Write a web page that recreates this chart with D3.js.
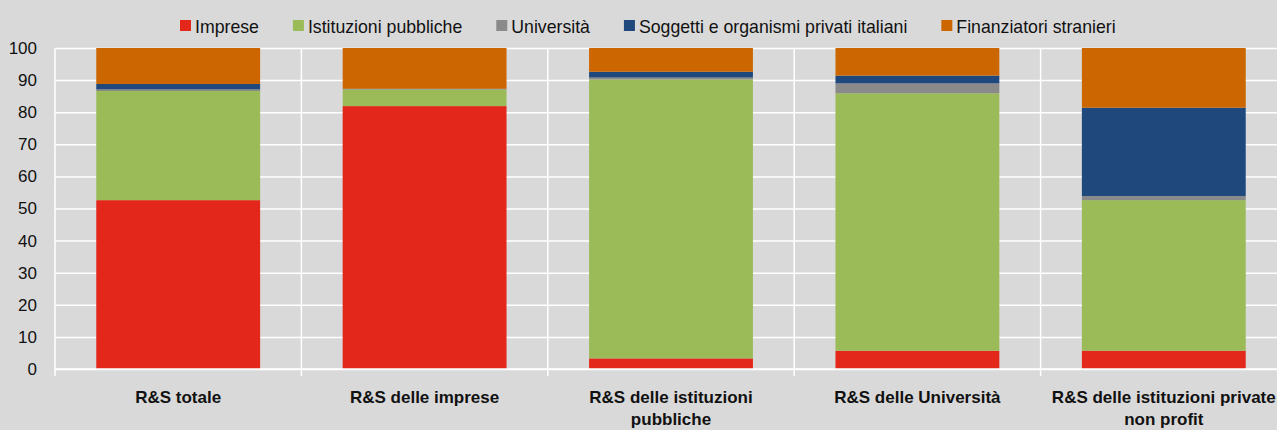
<!DOCTYPE html>
<html>
<head>
<meta charset="utf-8">
<script src="https://cdn.jsdelivr.net/npm/d3@7"></script>
<style>
  body { margin: 0; background: #d9d9d9; }
  svg { display: block; font-family: "Liberation Sans", Arial, sans-serif; }
</style>
</head>
<body>
<div id="chart"></div>
<script>
// categories and series (percent shares)
var categories = ["R&S totale", "R&S delle imprese", "R&S delle istituzioni pubbliche",
    "R&S delle Università", "R&S delle istituzioni private non profit"];
var catLines = [["R&S totale"], ["R&S delle imprese"], ["R&S delle istituzioni", "pubbliche"],
    ["R&S delle Università"], ["R&S delle istituzioni private", "non profit"]];
var seriesNames = ["Imprese", "Istituzioni pubbliche", "Università",
    "Soggetti e organismi privati italiani", "Finanziatori stranieri"];
var imprese = [52.6, 81.9, 3.3, 5.7, 5.7];
var istituzioni = [34.0, 5.2, 86.9, 80.2, 46.9];
var universita = [0.5, 0.1, 0.6, 3.1, 1.3];
var soggetti = [1.7, 0.1, 1.8, 2.4, 27.5];
var stranieri = [11.2, 12.7, 7.4, 8.6, 18.6];
var yTicks = [0, 10, 20, 30, 40, 50, 60, 70, 80, 90, 100];
var colors = ["#e3271a", "#9bbb59", "#8a8a8a", "#1f497d", "#cc6600"];

var width = 1277, height = 430;
var margin = { top: 48, right: -10, bottom: 61, left: 55 };

var svg = d3.select("#chart").append("svg")
    .attr("width", width)
    .attr("height", height);

svg.append("rect").attr("width", width).attr("height", height).attr("fill", "#d9d9d9");

// rows for stacking
var values = [imprese, istituzioni, universita, soggetti, stranieri];
var rows = categories.map(function (c, i) {
    var r = { cat: c };
    seriesNames.forEach(function (s, j) { r[s] = values[j][i]; });
    return r;
});
var stacked = d3.stack().keys(seriesNames)(rows);

var x = d3.scaleBand()
    .domain(categories)
    .range([margin.left, width - margin.right])
    .paddingInner(0.335)
    .paddingOuter(0.1675);

var slots = d3.scaleBand()
    .domain(categories)
    .range([margin.left, width - margin.right])
    .padding(0);

var y = d3.scaleLinear()
    .domain([0, 100])
    .range([height - margin.bottom, margin.top]);

// horizontal gridlines
svg.append("g")
    .attr("transform", "translate(" + margin.left + ",0)")
    .call(d3.axisLeft(y).tickValues(yTicks).tickSize(-(width - margin.right - margin.left)).tickFormat(""))
    .call(function (g) { g.select(".domain").remove(); })
    .selectAll("line")
    .attr("stroke", "#fff")
    .attr("stroke-width", 1.5);

// vertical separators between categories
var bounds = categories.map(function (c) { return slots(c); });
bounds.push(slots(categories[categories.length - 1]) + slots.bandwidth());
svg.append("g").selectAll("line")
    .data(bounds)
    .enter().append("line")
    .attr("x1", function (d) { return d; })
    .attr("x2", function (d) { return d; })
    .attr("y1", y(100))
    .attr("y2", y(0) + 7)
    .attr("stroke", "#fff")
    .attr("stroke-width", 1.5);

// bars
svg.append("g").selectAll("g")
    .data(stacked)
    .enter().append("g")
    .attr("fill", function (d, i) { return colors[i]; })
    .selectAll("rect")
    .data(function (d) { return d; })
    .enter().append("rect")
    .attr("x", function (d) { return x(d.data.cat); })
    .attr("y", function (d) { return y(d[1]); })
    .attr("height", function (d) { return y(d[0]) - y(d[1]); })
    .attr("width", x.bandwidth());

// x axis line
svg.append("line")
    .attr("x1", margin.left).attr("x2", width)
    .attr("y1", y(0)).attr("y2", y(0))
    .attr("stroke", "#fff").attr("stroke-width", 1.5);

// y axis labels
svg.append("g")
    .attr("transform", "translate(" + (margin.left - 18) + ",0)")
    .call(d3.axisLeft(y).tickValues(yTicks).tickSize(0).tickPadding(0))
    .call(function (g) { g.select(".domain").remove(); })
    .selectAll("text")
    .attr("font-size", "17px")
    .attr("font-family", "'Liberation Sans', Arial, sans-serif")
    .attr("fill", "#111");

// category labels
var labels = svg.append("g").selectAll("text")
    .data(categories)
    .enter().append("text")
    .attr("x", function (d) { return slots(d) + slots.bandwidth() / 2; })
    .attr("y", y(0) + 34)
    .attr("text-anchor", "middle")
    .attr("font-size", "17px")
    .attr("font-weight", "bold")
    .attr("fill", "#111");
labels.selectAll("tspan")
    .data(function (d, i) { return catLines[i]; })
    .enter().append("tspan")
    .attr("x", function () { return d3.select(this.parentNode).attr("x"); })
    .attr("dy", function (d, i) { return i === 0 ? 0 : 22; })
    .text(function (d) { return d; });

// legend
var legend = svg.append("g").attr("transform", "translate(180,0)");
var lx = 0;
seriesNames.forEach(function (s, i) {
    legend.append("rect")
        .attr("x", lx).attr("y", 20)
        .attr("width", 11).attr("height", 11)
        .attr("fill", colors[i]);
    var t = legend.append("text")
        .attr("x", lx + 15).attr("y", 33)
        .attr("font-size", "17.7px")
        .attr("fill", "#111")
        .text(s);
    lx += 15 + t.node().getComputedTextLength() + 34;
});
</script>
</body>
</html>
